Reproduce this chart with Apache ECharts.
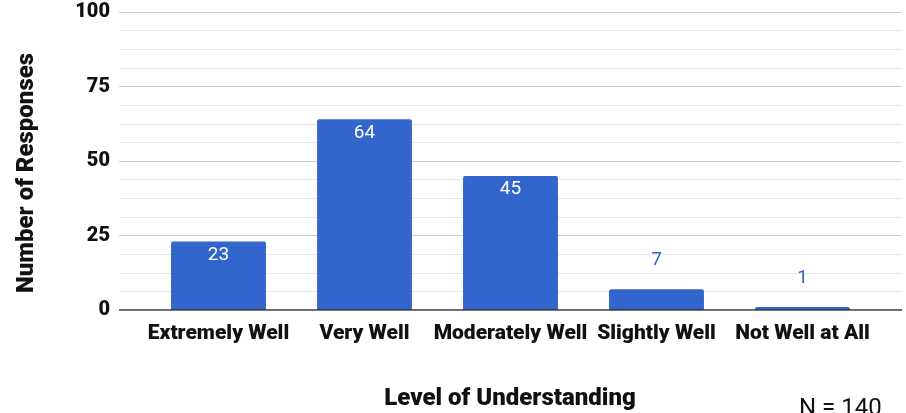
<!DOCTYPE html>
<html>
<head>
<meta charset="utf-8">
<script src="https://cdn.jsdelivr.net/npm/echarts@6/dist/echarts.min.js"></script>
<style>html,body{margin:0;padding:0;background:#fff}#c{width:906px;height:413px}</style>
</head>
<body>
<div id="c"></div>
<script>
const categories = ['Extremely Well', 'Very Well', 'Moderately Well', 'Slightly Well', 'Not Well at All'];
const responses = [23, 64, 45, 7, 1];
const yTicks = [0, 25, 50, 75, 100];
const xTitle = 'Level of Understanding';
const yTitle = 'Number of Responses';
const noteText = 'N = 140';

const BAR = '#3366cc';
const FONT = 'Roboto';
const HEAVY = 900;
const insideThreshold = 15;

const barData = responses.map(v => ({
  value: v,
  label: v >= insideThreshold
    ? { position: 'insideTop', distance: 4, color: '#ffffff' }
    : { position: 'top', distance: 19, color: BAR }
}));

const chart = echarts.init(document.getElementById('c'), null, { renderer: 'canvas' });
chart.setOption({
  animation: false,
  textStyle: { fontFamily: FONT },
  grid: [
    { left: 119, right: 4, top: 12, bottom: 103 },
    { left: 145.5, right: 30.5, top: 12, bottom: 103 }
  ],
  xAxis: [
    { type: 'value', gridIndex: 0, show: false, min: 0, max: 1 },
    {
      type: 'category', gridIndex: 1, data: categories,
      axisLine: { show: false }, axisTick: { show: false },
      axisLabel: { color: '#111', fontSize: 21, fontWeight: HEAVY, fontFamily: FONT, margin: 13, interval: 0 }
    }
  ],
  yAxis: [
    {
      type: 'value', gridIndex: 0, min: 0, max: 100, interval: 25,
      axisLine: { show: false }, axisTick: { show: false },
      axisLabel: { color: '#111', fontSize: 20, fontWeight: HEAVY, fontFamily: FONT, margin: 9,
        formatter: v => yTicks.includes(v) ? String(v) : '' },
      splitLine: { show: true, lineStyle: { color: '#cccccc', width: 1 } },
      minorTick: { show: false, splitNumber: 4 },
      minorSplitLine: { show: true, lineStyle: { color: '#e6e6e6', width: 1 } }
    },
    { type: 'value', gridIndex: 1, min: 0, max: 100, interval: 25, show: false }
  ],
  series: [
    {
      type: 'line', xAxisIndex: 0, yAxisIndex: 0, data: [[0, 0], [1, 0]],
      symbol: 'none', lineStyle: { color: '#333333', width: 1.5 }, silent: true, z: 5
    },
    {
      type: 'bar', xAxisIndex: 1, yAxisIndex: 1, data: barData,
      barWidth: '65%',
      itemStyle: { color: BAR, borderRadius: [2, 2, 0, 0] },
      label: { show: true, fontSize: 19, fontFamily: FONT },
      z: 3
    }
  ],
  graphic: [
    { type: 'text', x: 510, y: 399, style: { text: xTitle, fontSize: 24, fontWeight: HEAVY, fontFamily: FONT, fill: '#111', align: 'center', verticalAlign: 'middle' } },
    { type: 'text', x: 27, y: 173, rotation: Math.PI / 2, style: { text: yTitle, fontSize: 24, fontWeight: HEAVY, fontFamily: FONT, fill: '#111', align: 'center', verticalAlign: 'middle' } },
    { type: 'text', x: 799, y: 409, style: { text: noteText, fontSize: 24, fontFamily: FONT, fill: '#111', align: 'left', verticalAlign: 'middle' } }
  ]
});
</script>
</body>
</html>
